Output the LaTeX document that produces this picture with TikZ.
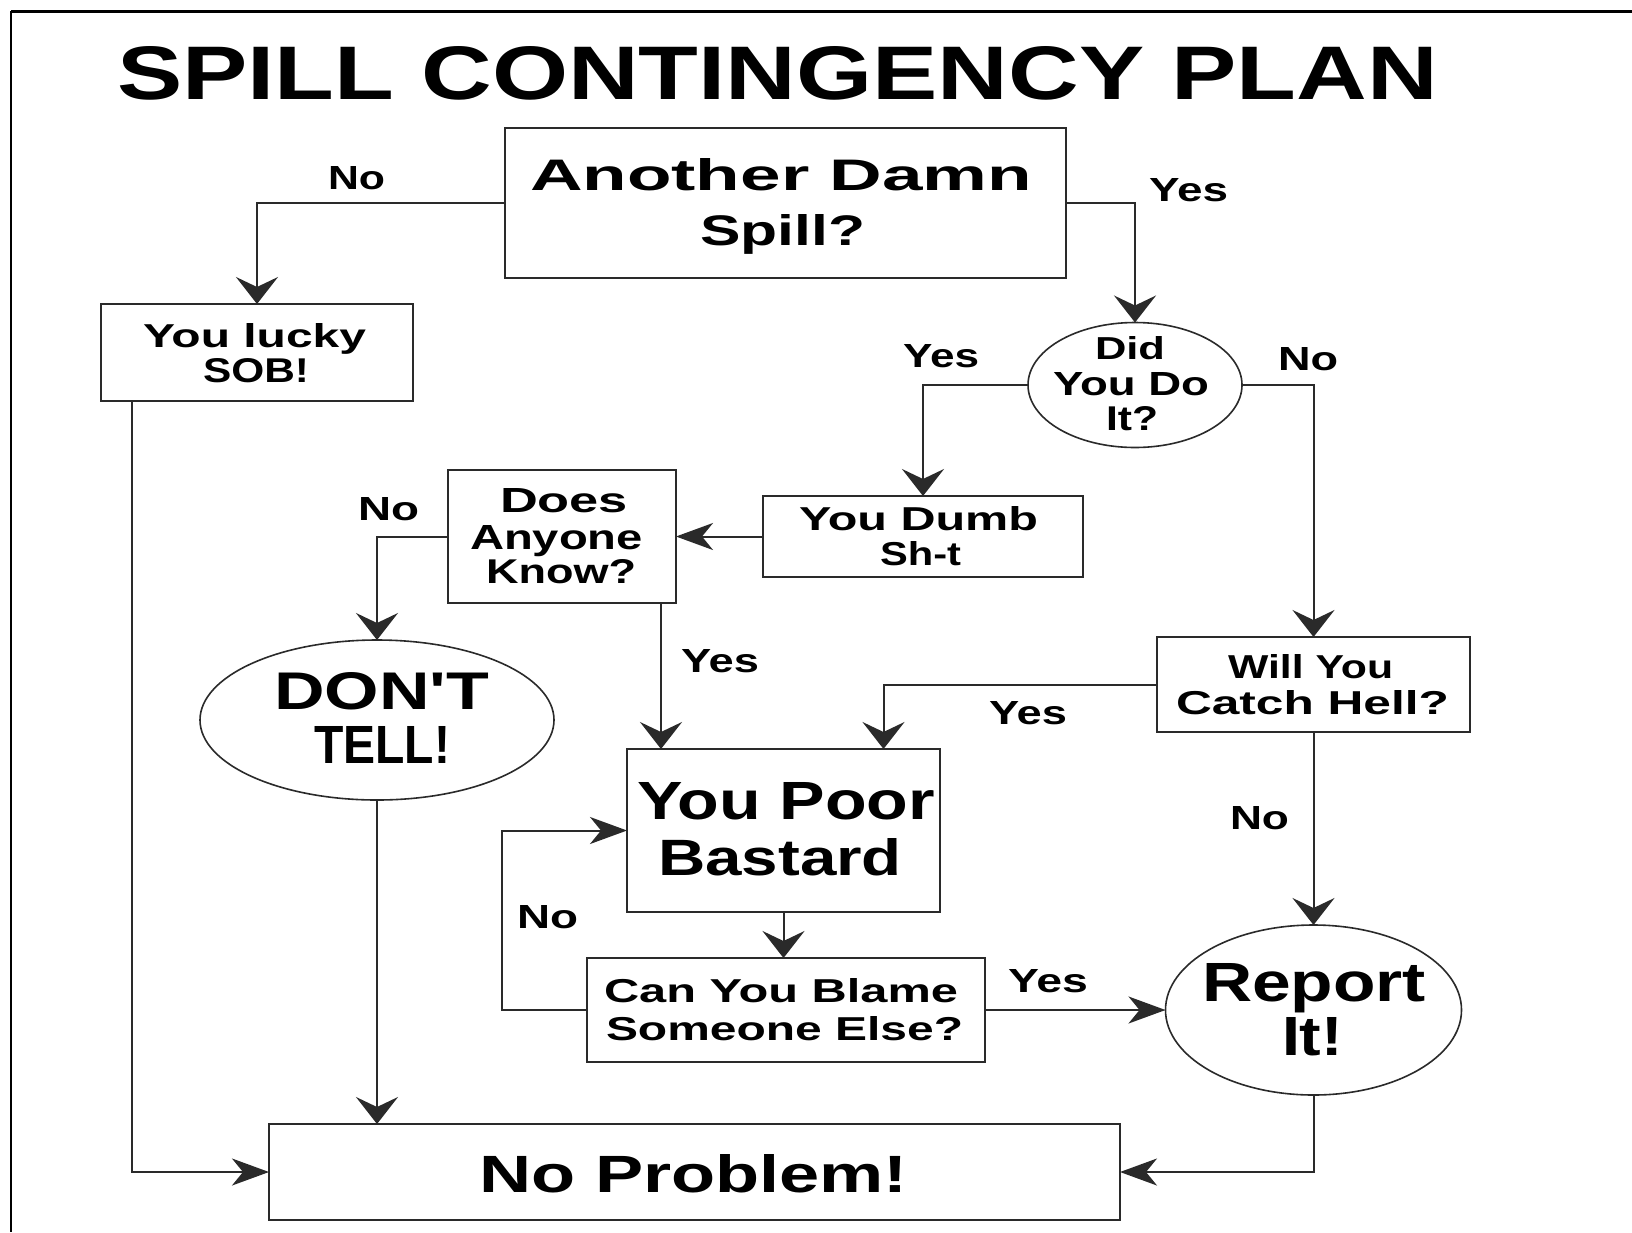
\documentclass[tikz,border=0pt]{standalone}
\usepackage{fontspec}
\setmainfont{Liberation Sans}
\usepackage{graphicx}
\usetikzlibrary{arrows.meta,shapes.geometric}
\definecolor{ln}{HTML}{2A2A2A}
\tikzset{
  box/.style={draw=ln,line width=2.2pt,rectangle,inner sep=0pt,outer sep=0pt},
  oval/.style={draw=ln,line width=1.6pt,ellipse,inner sep=0pt,outer sep=0pt},
  varr/.style={draw=ln,line width=2pt,-{Stealth[length=27pt,width=42pt,inset=10pt]}},
  harr/.style={draw=ln,line width=2pt,-{Stealth[length=37pt,width=27pt,inset=11pt]}},
  txtnode/.style={anchor=base west,inner sep=0pt,outer sep=0pt,text=black}
}
% name, left x, baseline y, width, height, text
\newcommand\txt[6]{\node[txtnode] (#1) at (#2,#3) {\resizebox{#4pt}{#5pt}{\bfseries #6}};}
\begin{document}
\begin{tikzpicture}[x=1pt,y=-1pt]
\useasboundingbox (0,0) rectangle (1632,1232);
\fill[white] (0,0) rectangle (1632,1232);
% frame
\draw[black,line width=3pt] (11,11) -- (1632,11);
\draw[black,line width=2pt] (11,11) -- (11,1232);

% shapes
\node[box,minimum width=561pt,minimum height=150pt] (A) at (785.5,203) {};
\node[box,minimum width=312pt,minimum height=97pt] (sob) at (257,352.5) {};
\node[oval,minimum width=214pt,minimum height=125pt] (did) at (1135,385) {};
\node[box,minimum width=320pt,minimum height=81pt] (dumb) at (923,536.5) {};
\node[box,minimum width=228pt,minimum height=133pt] (does) at (562,536.5) {};
\node[oval,minimum width=354pt,minimum height=160pt] (dont) at (377,720) {};
\node[box,minimum width=313pt,minimum height=95pt] (will) at (1313.5,684.5) {};
\node[box,minimum width=313pt,minimum height=163pt] (poor) at (783.5,830.5) {};
\node[box,minimum width=398pt,minimum height=104pt] (can) at (786,1010) {};
\node[oval,minimum width=296pt,minimum height=170pt] (rep) at (1313.5,1010) {};
\node[box,minimum width=851pt,minimum height=96pt] (np) at (694.5,1172) {};

% texts
\txt{title}{117}{99}{1321}{53}{SPILL CONTINGENCY PLAN}
\txt{a1}{530}{190}{502}{32}{Another Damn}
\txt{a2}{700}{245}{165}{31}{Spill?}
\txt{sob1}{143}{347}{223}{24}{You lucky}
\txt{sob2}{203}{382}{106}{24}{SOB!}
\txt{did1}{1095}{359}{70}{23}{Did}
\txt{did2}{1053}{395}{156}{23}{You Do}
\txt{did3}{1106}{430}{52}{24}{It?}
\txt{dumb1}{799}{530}{239}{24}{You Dumb}
\txt{dumb2}{880}{565}{81}{24}{Sh-t}
\txt{does1}{500}{512}{128}{24}{Does}
\txt{does2}{470}{549}{173}{24}{Anyone}
\txt{does3}{486}{583}{150}{24}{Know?}
\txt{dont1}{274}{709}{215}{37}{DON{\addfontfeatures{Ligatures=TeXOff}'}T}
\txt{dont2}{314}{763}{136}{37}{TELL!}
\txt{will1}{1228}{678}{165}{24}{Will You}
\txt{will2}{1176}{714}{273}{24}{Catch Hell?}
\txt{poor1}{637}{819}{298}{37}{You Poor}
\txt{poor2}{658}{875}{244}{37}{Bastard}
\txt{can1}{604}{1002}{354}{24}{Can You Blame}
\txt{can2}{606}{1040}{357}{24}{Someone Else?}
\txt{rep1}{1202}{1001}{224}{38}{Report}
\txt{rep2}{1282}{1055}{61}{38}{It!}
\txt{np1}{479}{1192}{429}{38}{No Problem!}

% labels
\txt{l1}{328}{189}{57}{23}{No}
\txt{l2}{1149}{201}{79}{23}{Yes}
\txt{l3}{903}{367}{76}{23}{Yes}
\txt{l4}{1278}{370}{60}{23}{No}
\txt{l5}{358}{520}{61}{23}{No}
\txt{l6}{681}{672}{78}{23}{Yes}
\txt{l7}{989}{724}{78}{23}{Yes}
\txt{l8}{1230}{829}{59}{23}{No}
\txt{l9}{517}{928}{61}{23}{No}
\txt{l10}{1008}{992}{80}{23}{Yes}

% connectors
\draw[varr] (A.west) -| (sob.north);
\draw[harr] ([xshift=31pt]sob.south west) |- (np.west);
\draw[varr] (A.east) -| (did.north);
\draw[varr] (did.west) -| (dumb.north);
\draw[harr] (dumb.west) -- (does.east);
\draw[varr] (does.west) -| (dont.north);
\draw[varr] (dont.south) -- (dont.south |- np.north);
\draw[varr] ([xshift=99pt]does.south) -- ([xshift=-122.5pt]poor.north);
\draw[varr] (did.east) -| (will.north);
\draw[varr] (will.west) -| ([xshift=100pt]poor.north);
\draw[varr] (will.south) -- (rep.north);
\draw[varr] (poor.south) -- (poor.south |- can.north);
\draw[harr] (can.west) -- ++(-85,0) |- (poor.west);
\draw[harr] (can.east) -- (rep.west);
\draw[harr] (rep.south) |- (np.east);
\end{tikzpicture}
\end{document}
